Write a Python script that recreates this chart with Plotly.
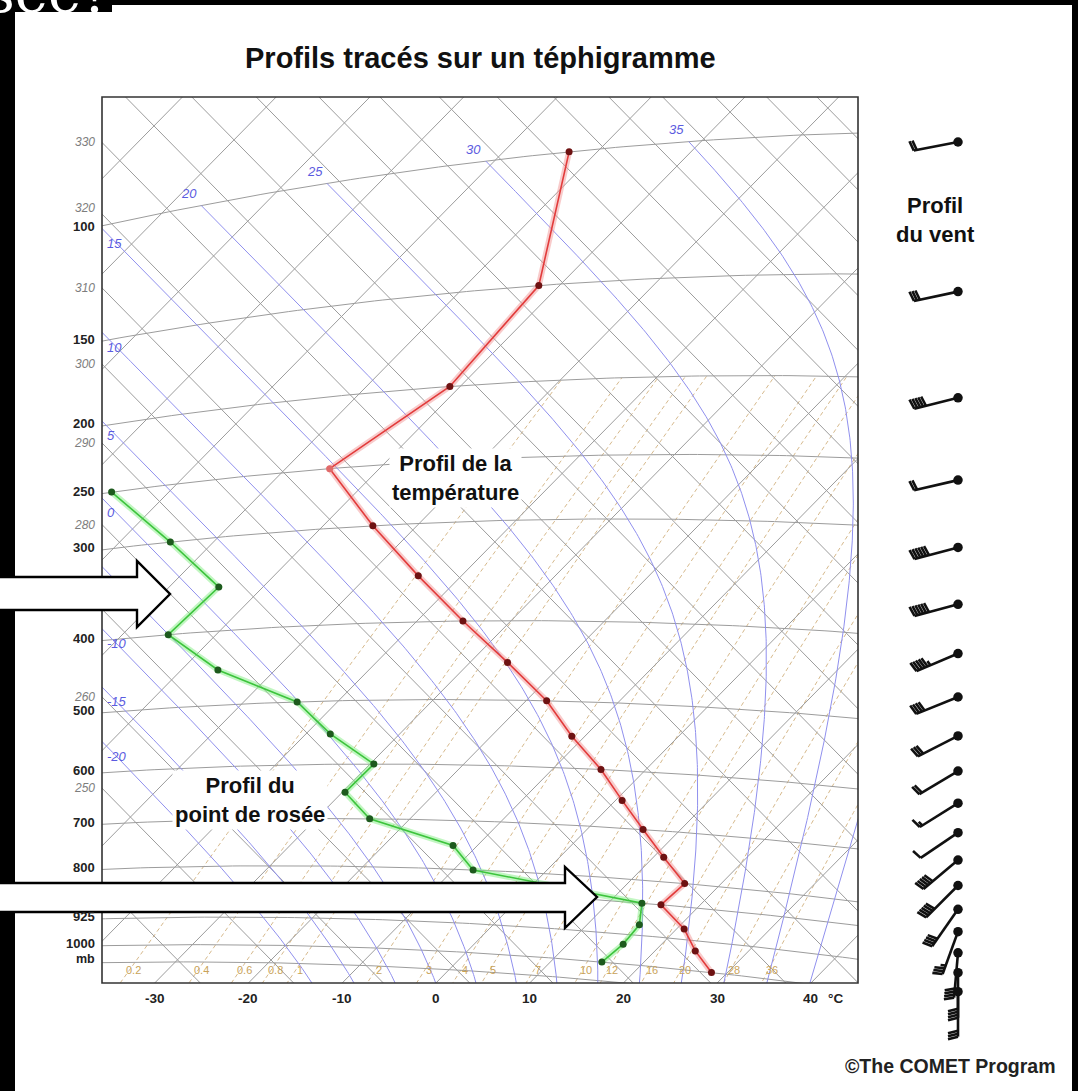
import numpy as np
import plotly.graph_objects as go

W, H = 1078, 1091
FX0, FX1, FY0, FY1 = 102, 858, 97, 983          # plot frame (px)
T0 = 273.15
FONT = "Liberation Sans, Arial, sans-serif"

# ---------------- data ----------------
levels = [100, 150, 200, 250, 300, 350, 400, 450, 500, 550, 600, 650, 700, 750, 800, 850, 900, 950, 1000]
temperature = [-73.0, -62.2, -61.1, -65.3, -54.7, -44.6, -35.1, -26.0, -17.8, -11.4, -4.8, 0.7,
               6.0, 11.1, 16.1, 15.8, 20.8, 24.3, 28.3]
dew_levels = [250, 300, 350, 400, 450, 500, 550, 600, 650, 700, 750, 800, 850, 900, 950, 1000]
dewpoint = [-86.1, -74.6, -64.7, -65.1, -56.1, -44.3, -37.4, -29.6, -29.7, -24.3, -12.6, -7.9,
            13.6, 15.6, 15.9, 15.5]
wind_dir = [259, 258, 256, 257, 255, 255, 247, 248, 243, 239, 238, 236, 230, 225, 215, 200, 185, 180, 180]
wind_spd = [20, 30, 50, 20, 60, 60, 55, 40, 30, 20, 15, 10, 50, 50, 40, 35, 40, 40, 30]

isobars = [100, 150, 200, 250, 300, 400, 500, 600, 700, 800, 850, 925, 1000, 1050]
p_labels = [100, 150, 200, 250, 300, 400, 500, 600, 700, 800, 925, 1000]
theta_labels = [250, 260, 280, 290, 300, 310, 320, 330]
thw_list = [-20, -15, -10, -5, 0, 5, 10, 15, 20, 25, 30, 35, 40]
thw_labels = [-20, -15, -10, 0, 5, 10, 15, 20, 25, 30, 35]
mix_list = [0.2, 0.4, 0.6, 0.8, 1, 2, 3, 4, 5, 7, 10, 12, 16, 20, 28, 36]
t_ticks = [-30, -20, -10, 0, 10, 20, 30, 40]

# ---------------- tephigram projection (calibrated to the frame) ----------------
x0, y0, a, rho, R, KAP = 466.0777, 952.3507, 4.6873, 1.0167, 243.998, 0.3041

def XY(T, p):
    T = np.asarray(T, float); p = np.asarray(p, float)
    L = np.log((T + T0) / T0) + KAP * np.log(1000.0 / p)
    return T + R * L, T - R * L

def to_px(T, p):
    X, Y = XY(T, p)
    return x0 + a * X, y0 + a * rho * Y

def T_at_sx(p, sx):
    p = np.asarray(p, float); sx = np.asarray(sx, float)
    T = np.zeros_like(sx)
    c = KAP * np.log(1000.0 / p)
    for _ in range(40):
        f = x0 + a * (T + R * (np.log((T + T0) / T0) + c)) - sx
        fp = a * (1 + R / (T + T0))
        T = np.maximum(T - f / fp, -200.0)
    return T

fig = go.Figure()
def line(X, Y, color, width, dash=None):
    fig.add_trace(go.Scatter(x=X, y=Y, mode='lines', line=dict(color=color, width=width, dash=dash),
                             hoverinfo='skip', xaxis='x', yaxis='y'))

# mixing ratio lines
def td_from_w(w, p):
    e = w * p / (622.0 + w)
    x = np.log(e / 6.112)
    return 243.5 * x / (17.67 - x)
pm = np.geomspace(1150, 200, 120)
mix_curves = {}
for w in mix_list:
    td = td_from_w(w, pm)
    mix_curves[w] = (td, pm)
    X, Y = XY(td, pm)
    line(X, Y, '#d6b98c', 1, '4px,3px')

# isotherms, isentropes, isobars
GRID = '#9c9c9c'
for T in range(-150, 71, 10):
    X, Y = XY([T, T], [20, 1500])
    line(X, Y, GRID, 1)
for th in range(180, 520, 10):
    L = np.log(th / T0)
    Tl = np.array([-200.0, 100.0])
    line(Tl + R * L, Tl - R * L, GRID, 1)
for p in isobars:
    Tl = np.linspace(-160, 80, 300)
    X, Y = XY(Tl, np.full_like(Tl, p))
    line(X, Y, GRID, 1)

# saturated (pseudo) adiabats
def moist(thw, lnp):
    Rd, Lv, eps, cp = 287.04, 2.501e6, 0.622, 1005.7
    def f(T, lp):
        p = np.exp(lp); Tc = T - T0
        e = 6.112 * np.exp(17.67 * Tc / (Tc + 243.5))
        r = eps * e / (p - e)
        return (KAP * T + Lv * r / cp) / (1 + Lv * Lv * r * eps / (cp * Rd * T * T))
    T = np.array(thw, float) + T0
    res = [T.copy()]
    for i in range(len(lnp) - 1):
        h = lnp[i + 1] - lnp[i]
        k1 = f(T, lnp[i]); k2 = f(T + h / 2 * k1, lnp[i] + h / 2)
        k3 = f(T + h / 2 * k2, lnp[i] + h / 2); k4 = f(T + h * k3, lnp[i + 1])
        T = T + h / 6 * (k1 + 2 * k2 + 2 * k3 + k4)
        res.append(T.copy())
    return np.array(res) - T0
lnp_up = np.linspace(np.log(1000), np.log(100), 300)
lnp_dn = np.linspace(np.log(1000), np.log(1150), 30)
Tu = moist(thw_list, lnp_up); Tdn = moist(thw_list, lnp_dn)
moist_curves = {}
for j, thw in enumerate(thw_list):
    pp = np.concatenate([np.exp(lnp_dn[::-1]), np.exp(lnp_up[1:])])
    TT = np.concatenate([Tdn[::-1, j], Tu[1:, j]])
    moist_curves[thw] = (TT, pp)
    X, Y = XY(TT, pp)
    line(X, Y, '#9090ee', 1)

# profiles
tX, tY = XY(temperature, levels)
dX, dY = XY(dewpoint, dew_levels)
line(dX, dY, 'rgba(120,235,120,0.45)', 6)
line(tX, tY, 'rgba(240,140,140,0.45)', 6)
fig.add_trace(go.Scatter(x=dX, y=dY, mode='lines+markers', line=dict(color='#3cc43c', width=1.6),
                         marker=dict(size=7, color='#1d5a1d'), hoverinfo='skip'))
mcol = ['#6e1212'] * len(levels); mcol[3] = '#e06a6a'
fig.add_trace(go.Scatter(x=tX, y=tY, mode='lines+markers', line=dict(color='#e23b3b', width=1.6),
                         marker=dict(size=7, color=mcol), hoverinfo='skip'))

# wind barbs on a log-pressure column
WY0, WPX = 142.0, 369.0
def p_of_y(y): return 100.0 * np.exp((y - WY0) / WPX)
bx, by = [], []
for p, D, S in zip(levels, wind_dir, wind_spd):
    yb = WY0 + WPX * np.log(p / 100.0)
    rad = np.radians(D)
    d = np.array([np.sin(rad), -np.cos(rad)])
    fv = np.array([np.cos(rad), np.sin(rad)])
    base = np.array([958.0, yb])
    segs = [(base, base + 45 * d)]
    pos = 45.0
    for k in range(int(S // 10)):
        s0 = base + pos * d
        segs.append((s0, s0 + 10 * fv + 2.5 * d)); pos -= 3.0
    if S % 10 >= 5:
        s0 = base + pos * d
        segs.append((s0, s0 + 5 * fv + 1.2 * d))
    for s, e in segs:
        bx += [s[0], e[0], None]; by += [p_of_y(s[1]), p_of_y(e[1]), None]
fig.add_trace(go.Scatter(x=bx, y=by, mode='lines', line=dict(color='#111', width=2.6),
                         xaxis='x2', yaxis='y2', hoverinfo='skip'))
fig.add_trace(go.Scatter(x=[958.0] * len(levels), y=levels, mode='markers', marker=dict(size=9.5, color='#111'),
                         xaxis='x2', yaxis='y2', hoverinfo='skip'))

# ---------------- annotations ----------------
ann = []
def txt(sx, sy, s, size, color='#222', xanchor='center', yanchor='middle', family=FONT, bg=None):
    d = dict(x=sx / W, y=1 - sy / H, xref='paper', yref='paper', text=s, showarrow=False,
             xanchor=xanchor, yanchor=yanchor, font=dict(size=size, color=color, family=family))
    if bg:
        d['bgcolor'] = bg; d['borderpad'] = 2
    ann.append(d)

for p in p_labels:
    T = T_at_sx(np.array([p], float), np.array([FX0], float))
    _, sy = to_px(T, p)
    txt(97, sy[0] + (1 if p == 100 else -2), f'<b>{p}</b>', 13, '#222', xanchor='right')
T = T_at_sx(np.array([1050.0]), np.array([FX0], float)); _, sy = to_px(T, 1050)
txt(97, sy[0] - 4, '<b>mb</b>', 12.5, '#222', xanchor='right')
for th in theta_labels:
    L = np.log(th / T0); T = (FX0 - x0) / a - R * L
    sy = y0 + a * rho * (T - R * L)
    txt(97, sy - (6 if th == 320 else 0), f'<i>{th}</i>', 12, '#7d7d7d', xanchor='right')
for T in t_ticks:
    sx = x0 + a * (2 * T - (FY1 - y0) / (a * rho))
    txt(sx, 998, f'<b>{T}</b>', 13.5, '#222')
    if T == 40:
        txt(sx + 25, 998, '<b>°C</b>', 13.5, '#222')
for thw in thw_labels:
    TT, pp = moist_curves[thw]
    sx, sy = to_px(TT, pp)
    out = np.where(sx < FX0)[0]
    if len(out):
        k = out[0]
        t = (FX0 - sx[k - 1]) / (sx[k] - sx[k - 1])
        yy = sy[k - 1] + t * (sy[k] - sy[k - 1])
        txt(FX0 + 3, yy + 15, f'<i>{thw}</i>', 13, '#5b5be0', xanchor='left')
    else:
        txt(sx[-1] - 12, sy[-1] - 12, f'<i>{thw}</i>', 13, '#5b5be0')
for w in mix_list:
    td, pp = mix_curves[w]
    sx, sy = to_px(td, pp)
    k = np.where(sy < 970)[0][0]
    t = (970 - sy[k - 1]) / (sy[k] - sy[k - 1])
    xx = sx[k - 1] + t * (sx[k] - sx[k - 1])
    txt(xx + 4, 970, f'{w:g}', 11, '#c9a35a')

txt(480, 58, '<b>Profils tracés sur un téphigramme</b>', 29, '#111')
txt(455, 478, '<b>Profil de la<br>température</b>', 22, '#111', bg='white')
txt(250, 800, '<b>Profil du<br>point de rosée</b>', 22, '#111', bg='white')
txt(935, 220, '<b>Profil<br>du vent</b>', 22, '#111')
txt(1057, 1066, '<b>©The COMET Program</b>', 19.5, '#222', xanchor='right')
txt(113, 27, 'sée?', 56, 'white', xanchor='right', yanchor='bottom', family='DejaVu Serif, serif')

# ---------------- shapes ----------------
def pth(pts):
    return 'M ' + ' L '.join(f'{x / W:.5f},{1 - y / H:.5f}' for x, y in pts) + ' Z'
shapes = [
    dict(type='rect', xref='paper', yref='paper', x0=0, x1=15 / W, y0=0, y1=1, fillcolor='black', line=dict(width=0), layer='above'),
    dict(type='rect', xref='paper', yref='paper', x0=0, x1=1, y0=1 - 5 / H, y1=1, fillcolor='black', line=dict(width=0), layer='above'),
    dict(type='rect', xref='paper', yref='paper', x0=0, x1=112 / W, y0=1 - 12 / H, y1=1, fillcolor='black', line=dict(width=0), layer='above'),
    dict(type='rect', xref='paper', yref='paper', x0=1072 / W, x1=1, y0=0, y1=1, fillcolor='black', line=dict(width=0), layer='above'),
    dict(type='rect', xref='paper', yref='paper', x0=FX0 / W, x1=FX1 / W, y0=1 - FY1 / H, y1=1 - FY0 / H,
         line=dict(color='#333', width=1.6), layer='above'),
    dict(type='path', xref='paper', yref='paper', path=pth([(-5, 577), (137, 577), (137, 561), (170, 594), (137, 627), (137, 610), (-5, 610)]),
         fillcolor='white', line=dict(color='black', width=2.4), layer='above'),
    dict(type='path', xref='paper', yref='paper', path=pth([(-5, 883), (565, 883), (565, 867), (597, 897), (565, 928), (565, 912), (-5, 912)]),
         fillcolor='white', line=dict(color='black', width=2.4), layer='above'),
]

pt, pb = p_of_y(0), p_of_y(H)
fig.update_layout(
    width=W, height=H, margin=dict(l=0, r=0, t=0, b=0), autosize=False,
    paper_bgcolor='white', plot_bgcolor='rgba(0,0,0,0)', showlegend=False,
    xaxis=dict(domain=[FX0 / W, FX1 / W], range=[(FX0 - x0) / a, (FX1 - x0) / a], visible=False, fixedrange=True),
    yaxis=dict(domain=[1 - FY1 / H, 1 - FY0 / H], range=[(FY1 - y0) / (a * rho), (FY0 - y0) / (a * rho)], visible=False, fixedrange=True),
    xaxis2=dict(domain=[0, 1], range=[0, W], visible=False, anchor='y2', fixedrange=True),
    yaxis2=dict(domain=[0, 1], type='log', range=[np.log10(pb), np.log10(pt)], visible=False, anchor='x2', fixedrange=True),
    annotations=ann, shapes=shapes,
)
fig.write_html('out.html', post_script="document.body.style.margin='0';")
